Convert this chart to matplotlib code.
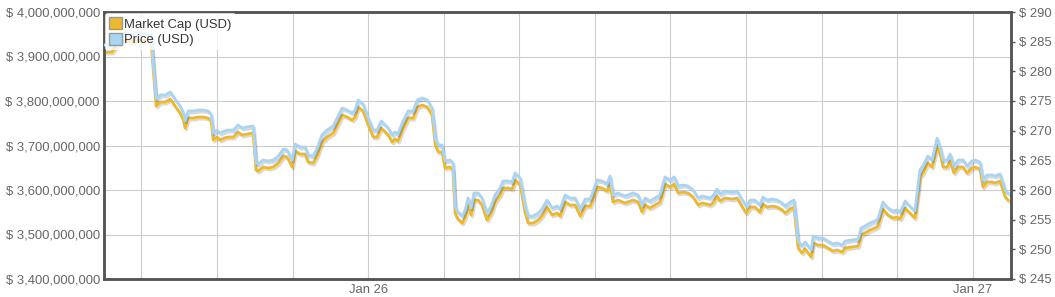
import matplotlib
matplotlib.use("Agg")
import matplotlib.pyplot as plt
import matplotlib.dates as mdates
import matplotlib.patheffects as pe
from matplotlib.patches import Patch
from matplotlib.ticker import FuncFormatter, MultipleLocator
import pandas as pd

plt.rcParams['font.family'] = ['Liberation Sans', 'DejaVu Sans']

# minutes after 2015-01-25 13:30
minutes = [4, 13, 20, 30, 42, 54, 66, 78, 90, 101, 113,
           125, 135, 147, 159, 170, 182, 190, 194, 201, 213, 225, 237, 249, 256,
           261, 270, 278, 287, 297, 309, 320, 330, 342, 356,
           363, 368, 380, 392, 404, 416, 428, 437, 449, 456, 468, 480, 487, 499, 509, 520,
           532, 547, 556, 568, 580, 592, 599, 606, 618, 630, 642, 651, 661, 666, 678, 687,
           694, 701, 711, 725, 737, 747, 759, 771, 782,
           790, 797, 806, 813, 825, 832,
           837, 842, 854, 861, 868, 875, 882, 892, 901, 913, 923, 932, 944, 951, 963, 973,
           980, 992, 1004, 1011, 1023, 1035, 1044, 1056, 1068, 1080, 1087, 1099, 1111, 1123,
           1135, 1147, 1159, 1166, 1175, 1187, 1199, 1206, 1213, 1225, 1242, 1261, 1273, 1282,
           1290, 1301, 1313, 1325, 1337, 1349, 1359, 1368, 1380, 1392, 1404, 1416, 1425, 1437,
           1444, 1451, 1461, 1468, 1480, 1497, 1509, 1521, 1530, 1540, 1551, 1563, 1570, 1580,
           1592, 1604, 1616, 1623, 1635, 1644,
           1654, 1663, 1671, 1685, 1690, 1701, 1713, 1725, 1737, 1747, 1759, 1766, 1782, 1797,
           1804, 1813, 1825, 1837, 1844, 1856, 1868, 1880, 1890, 1897, 1909, 1920, 1932, 1944,
           1951, 1963, 1973, 1985, 1994, 1999, 2009, 2016, 2025, 2035, 2047, 2056, 2068, 2075,
           2087, 2094, 2104, 2116, 2123, 2135, 2147, 2154]

# market cap, millions of USD
market_cap = [3910.1, 3910.1, 3910.1, 3923.7, 3932.6, 3937.1, 3932.6, 3939.3, 3934.8, 3937.1, 3932.6,
              3788.8, 3797.8, 3797.8, 3804.5, 3788.8, 3773.0, 3757.3, 3739.3, 3761.8, 3761.8, 3764.0,
              3764.0, 3761.8, 3755.1,
              3712.4, 3719.1, 3712.4, 3716.9, 3719.1, 3719.1, 3730.3, 3723.6, 3725.8, 3728.1,
              3644.9, 3642.7, 3651.7, 3649.4, 3651.7, 3660.7, 3676.4, 3674.2, 3651.7, 3687.6,
              3680.9, 3680.9, 3662.9, 3660.7, 3678.7, 3707.9, 3719.1, 3728.1, 3746.1, 3768.5,
              3764.0, 3757.3, 3764.0, 3786.5, 3777.5, 3746.1, 3719.1, 3719.1, 3739.3, 3734.8,
              3723.6, 3707.9, 3714.6, 3710.1, 3734.8, 3761.8, 3761.8, 3786.5, 3791.0, 3786.5,
              3768.5,
              3701.1, 3685.4, 3685.4, 3649.4, 3651.7, 3644.9,
              3548.3, 3537.1, 3525.8, 3539.3, 3566.3, 3543.8, 3577.5, 3577.5, 3566.3, 3532.6,
              3548.3, 3573.0, 3588.8, 3604.5, 3604.5, 3602.2, 3622.5, 3611.2, 3548.3, 3525.8,
              3525.8, 3532.6, 3541.6, 3561.8, 3543.8, 3548.3, 3541.6, 3573.0, 3566.3, 3566.3,
              3541.6, 3564.0, 3564.0, 3582.0, 3606.7, 3604.5, 3597.7, 3615.7, 3573.0, 3577.5,
              3570.8, 3577.5, 3573.0, 3550.6, 3566.3, 3559.6, 3566.3, 3573.0, 3613.5, 3606.7,
              3613.5, 3593.3, 3595.5, 3593.3, 3584.3, 3566.3, 3570.8, 3568.5, 3566.3, 3570.8,
              3586.5, 3575.3, 3582.0, 3579.8, 3582.0, 3561.8, 3548.3, 3561.8, 3561.8, 3550.6,
              3568.5, 3561.8, 3564.0, 3561.8, 3555.1, 3548.3, 3557.3, 3561.8,
              3469.7, 3458.4, 3467.4, 3449.4, 3480.9, 3476.4, 3476.4, 3469.7, 3462.9, 3465.2,
              3460.7, 3469.7, 3471.9, 3474.2, 3498.9, 3503.4, 3510.1, 3514.6, 3519.1, 3557.3,
              3543.8, 3537.1, 3539.3, 3534.8, 3559.6, 3548.3, 3537.1, 3629.2, 3638.2, 3660.7,
              3651.7, 3701.1, 3674.2, 3651.7, 3651.7, 3665.2, 3638.2, 3651.7, 3651.7, 3638.2,
              3649.4, 3651.7, 3647.2, 3606.7, 3618.0, 3618.0, 3615.7, 3620.2, 3584.3, 3577.5]

# price, USD
price = [284.44, 284.44, 284.44, 285.45, 286.12, 286.46, 286.12, 286.63, 286.29, 286.46, 286.12,
         275.34, 276.01, 276.01, 276.52, 275.34, 274.16, 272.98, 271.63, 273.31, 273.31, 273.48,
         273.48, 273.31, 272.81,
         269.61, 270.11, 269.61, 269.94, 270.11, 270.11, 270.95, 270.45, 270.62, 270.79,
         264.55, 264.38, 265.06, 264.89, 265.06, 265.73, 266.91, 266.74, 265.06, 267.75,
         267.25, 267.25, 265.90, 265.73, 267.08, 269.27, 270.11, 270.79, 272.13, 273.82,
         273.48, 272.98, 273.48, 275.17, 274.49, 272.13, 270.11, 270.11, 271.63, 271.29,
         270.45, 269.27, 269.78, 269.44, 271.29, 273.31, 273.31, 275.17, 275.51, 275.17,
         273.82,
         268.76, 267.58, 267.58, 264.89, 265.06, 264.55,
         257.30, 256.46, 255.62, 256.63, 258.65, 256.97, 259.49, 259.49, 258.65, 256.12,
         257.30, 259.16, 260.34, 261.52, 261.52, 261.35, 262.87, 262.02, 257.30, 255.62,
         255.62, 256.12, 256.80, 258.31, 256.97, 257.30, 256.80, 259.16, 258.65, 258.65,
         256.80, 258.48, 258.48, 259.83, 261.69, 261.52, 261.01, 262.36, 259.16, 259.49,
         258.99, 259.49, 259.16, 257.47, 258.65, 258.15, 258.65, 259.16, 262.19, 261.69,
         262.19, 260.67, 260.84, 260.67, 260.00, 258.65, 258.99, 258.82, 258.65, 258.99,
         260.17, 259.33, 259.83, 259.66, 259.83, 258.31, 257.30, 258.31, 258.31, 257.47,
         258.82, 258.31, 258.48, 258.31, 257.81, 257.30, 257.98, 258.31,
         251.40, 250.56, 251.24, 249.89, 252.25, 251.91, 251.91, 251.40, 250.90, 251.07,
         250.73, 251.40, 251.57, 251.74, 253.60, 253.93, 254.44, 254.78, 255.11, 257.98,
         256.97, 256.46, 256.63, 256.29, 258.15, 257.30, 256.46, 263.37, 264.05, 265.73,
         265.06, 268.76, 266.74, 265.06, 265.06, 266.07, 264.05, 265.06, 265.06, 264.05,
         264.89, 265.06, 264.72, 261.69, 262.53, 262.53, 262.36, 262.70, 260.00, 259.49]

start = pd.Timestamp("2015-01-25 13:30")
times = start + pd.to_timedelta(minutes, unit="min")
mcap = [v * 1e6 for v in market_cap]

gold = "#ECB92E"
blue = "#A9D5F5"
spine_c = "#555555"
label_c = "#666666"

fig = plt.figure(figsize=(10.55, 2.97), dpi=100)
ax = fig.add_axes([104 / 1055, 18 / 297, 907 / 1055, 267 / 297])
ax2 = ax.twinx()

shadow = [pe.SimpleLineShadow(offset=(1, -1.5), shadow_color="k", alpha=0.15),
          pe.Normal()]
ax.plot(times, mcap, color=gold, lw=2.0, path_effects=shadow, zorder=3)
ax2.plot(times, price, color=blue, lw=2.0, path_effects=shadow, zorder=3)

ax.set_xlim(start + pd.Timedelta(minutes=1), start + pd.Timedelta(minutes=2161))
ax.set_ylim(3.4e9, 4.0e9)
ax2.set_ylim(245, 290)

ax.yaxis.set_major_locator(MultipleLocator(1e8))
ax.yaxis.set_major_formatter(FuncFormatter(lambda v, _: f"$ {v:,.0f}"))
ax2.yaxis.set_major_locator(MultipleLocator(5))
ax2.yaxis.set_major_formatter(FuncFormatter(lambda v, _: f"$ {v:.0f}"))


def day_label(x, pos):
    if abs(x - round(x)) < 1e-4:
        return mdates.num2date(round(x)).strftime("%b %d")
    return ""


ax.xaxis.set_major_locator(mdates.HourLocator(byhour=range(0, 24, 3)))
ax.xaxis.set_major_formatter(FuncFormatter(day_label))

ax.grid(True, color="#cccccc", lw=0.8)
ax.set_axisbelow(True)

for a in (ax, ax2):
    for s in a.spines.values():
        s.set_color(spine_c)
        s.set_linewidth(1.8)

ax.tick_params(axis="y", length=0, pad=3, labelsize=9.4, labelcolor=label_c)
ax.tick_params(axis="x", length=0, pad=3.5, labelsize=9.4, labelcolor=label_c)
ax2.tick_params(axis="y", length=3, width=1, color=spine_c, pad=3,
                labelsize=9.4, labelcolor=label_c)

handles = [Patch(facecolor=gold, edgecolor="#999999", label="Market Cap (USD)"),
           Patch(facecolor=blue, edgecolor="#999999", label="Price (USD)")]
leg = ax2.legend(handles=handles, loc="upper left", bbox_to_anchor=(0, 1),
                 frameon=True, framealpha=0.75, edgecolor="none", fontsize=9.4,
                 handlelength=1.0, handleheight=1.0, handletextpad=0.15,
                 labelspacing=0.2, borderpad=0.3, borderaxespad=0.1)
for t in leg.get_texts():
    t.set_color("#333333")
leg.set_zorder(10)

fig.savefig("out.png", dpi=100)
